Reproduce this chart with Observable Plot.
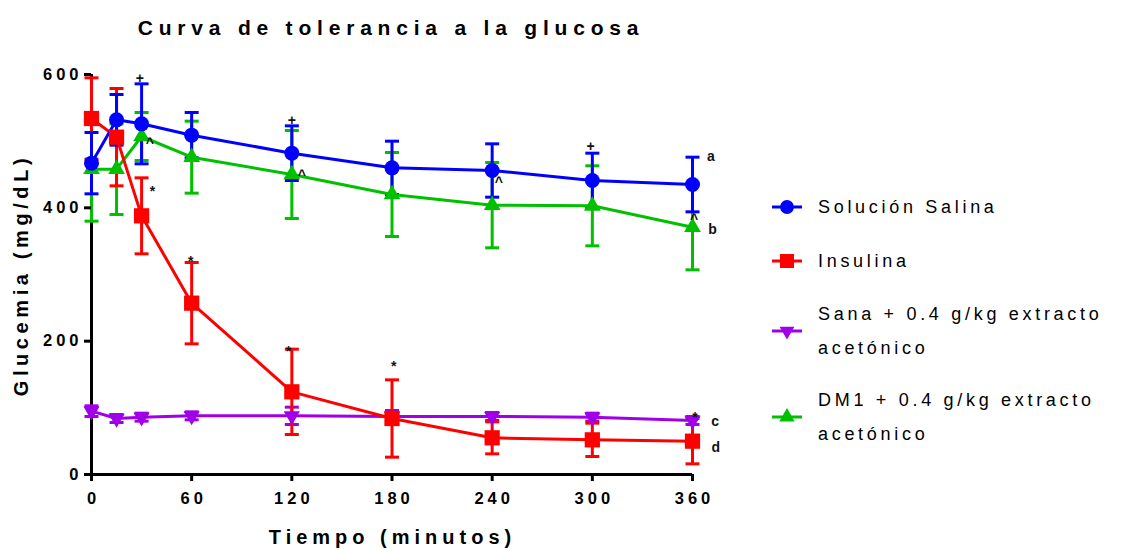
<!DOCTYPE html>
<html>
<head>
<meta charset="utf-8">
<script src="https://cdn.jsdelivr.net/npm/d3@7"></script>
<script src="https://cdn.jsdelivr.net/npm/@observablehq/plot@0.6"></script>
<style>
  body { margin: 0; background: #fff; font-family: "Liberation Sans", Arial, sans-serif; }
  #wrap { position: relative; width: 1136px; height: 550px; overflow: hidden; }
  #title { position: absolute; left: 0; width: 782px; top: 16px; text-align: center; font-weight: bold; font-size: 21px; letter-spacing: 5.8px; color: #000; }
  #xlabel { position: absolute; left: 0; width: 785px; top: 526px; text-align: center; font-weight: bold; font-size: 20px; letter-spacing: 5px; color: #000; }
  #ylabel { position: absolute; left: 21px; top: 275px; transform: translate(-50%, -50%) rotate(-90deg); white-space: nowrap; font-weight: bold; font-size: 20px; letter-spacing: 4.6px; color: #000; }
  .leg { position: absolute; left: 772px; display: flex; align-items: center; }
  .leg .txt { margin-left: 16px; font-size: 18px; letter-spacing: 3.7px; line-height: 34px; color: #000; }
  #plot svg g[aria-label$="tick label"] text { letter-spacing: 4px; font-size: 16.5px !important; font-weight: bold !important; }
</style>
</head>
<body>
<div id="wrap">
  <div id="plot"></div>
  <div id="title">Curva de tolerancia a la glucosa</div>
  <div id="xlabel">Tiempo (minutos)</div>
  <div id="ylabel">Glucemia (mg/dL)</div>
  <div id="legend"></div>
</div>
<script>
// ---- data ----
const times = [0, 15, 30, 60, 120, 180, 240, 300, 360];
const xTicks = [0, 60, 120, 180, 240, 300, 360];
const yTicks = [0, 200, 400, 600];

const seriesNames = ["Solución Salina", "Insulina", "Sana + 0.4 g/kg extracto acetónico", "DM1 + 0.4 g/kg extracto acetónico"];
const legendLines = [["Solución Salina"], ["Insulina"], ["Sana + 0.4 g/kg extracto", "acetónico"], ["DM1 + 0.4 g/kg extracto", "acetónico"]];
const seriesColors = ["#0000ff", "#ff0000", "#a000e8", "#00c000"];

const salinaMean = [467, 532, 526, 509, 482, 460, 456, 441, 435];
const salinaSD   = [46, 38, 60, 34, 41, 40, 40, 41, 41];
const insulinaMean = [534, 506, 388, 257, 124, 84, 55, 52, 50];
const insulinaSD   = [61, 73, 57, 61, 64, 58, 24, 25, 34];
const sanaMean = [95, 84, 86, 88, 88, 87, 87, 86, 81];
const sanaSD   = [8, 6, 6, 6, 13, 9, 6, 6, 6];
const dm1Mean = [458, 458, 507, 476, 450, 420, 404, 403, 371];
const dm1SD   = [78, 68, 36, 54, 66, 63, 64, 60, 64];

// significance annotations (x in minutes, y in mg/dL)
const annLabel = ["+", "+", "+", "^", "^", "^", "^", "*", "*", "*", "*", "*", "a", "b", "c", "d"];
const annX = [29, 120, 299, 35, 126, 244, 361, 36.5, 59.5, 118, 181, 361.5, 371, 372, 373.5, 374];
const annY = [594, 531, 492, 503, 455, 444, 388, 431, 326, 190, 168, 91, 477, 367, 79, 41];

// ---- build tables ----
const means = [salinaMean, insulinaMean, sanaMean, dm1Mean];
const sds = [salinaSD, insulinaSD, sanaSD, dm1SD];
const symbols = ["circle", "square", "triangle", "triangle"];
const rotations = [0, 0, 180, 0];
const radii = [7.5, 8.6, 6, 6.2];

const table = [];
seriesNames.forEach((name, i) => {
  times.forEach((t, j) => table.push({series: name, idx: i, t, v: means[i][j], sd: sds[i][j]}));
});
const ann = annLabel.map((s, i) => ({s, x: annX[i], y: annY[i]}));

const capSymbol = {
  draw(ctx, size) {
    const w = Math.sqrt(size / Math.PI);
    ctx.moveTo(-w, 0);
    ctx.lineTo(w, 0);
  }
};

// draw order: green, purple, red, blue
const order = [3, 2, 1, 0];
const marks = [];
marks.push(Plot.ruleX([0], {y1: 0, y2: 600, stroke: "#000", strokeWidth: 3}));
marks.push(Plot.ruleY([0], {x1: 0, x2: 360, stroke: "#000", strokeWidth: 3}));
for (const i of order) {
  const d = table.filter(r => r.idx === i);
  const c = seriesColors[i];
  marks.push(Plot.ruleX(d, {x: "t", y1: r => r.v - r.sd, y2: r => r.v + r.sd, stroke: c, strokeWidth: 3}));
  marks.push(Plot.dot(d, {x: "t", y: r => r.v + r.sd, symbol: capSymbol, r: 7, stroke: c, strokeWidth: 3, fill: "none"}));
  marks.push(Plot.dot(d, {x: "t", y: r => r.v - r.sd, symbol: capSymbol, r: 7, stroke: c, strokeWidth: 3, fill: "none"}));
}
for (const i of order) {
  const d = table.filter(r => r.idx === i);
  marks.push(Plot.line(d, {x: "t", y: "v", stroke: seriesColors[i], strokeWidth: 3}));
}
for (const i of order) {
  const d = table.filter(r => r.idx === i);
  marks.push(Plot.dot(d, {x: "t", y: "v", symbol: symbols[i], r: radii[i], rotate: rotations[i], fill: seriesColors[i], stroke: "none"}));
}
marks.push(Plot.text(ann, {x: "x", y: "y", text: "s", fontSize: 14, fontWeight: "bold", fill: "#111", lineAnchor: "middle"}));
marks.push(Plot.axisX({ticks: xTicks, tickSize: 7, tickPadding: 11, strokeWidth: 3, fontSize: 16.5, fontWeight: "bold", label: null, fill: "#000", stroke: "#000"}));
marks.push(Plot.axisY({ticks: yTicks, tickSize: 7, tickPadding: 2, strokeWidth: 3, fontSize: 16.5, fontWeight: "bold", label: null, fill: "#000", stroke: "#000"}));

const plot = Plot.plot({
  width: 1136,
  height: 550,
  marginLeft: 91,
  marginRight: 444,
  marginTop: 74,
  marginBottom: 76,
  style: {fontFamily: "'Liberation Sans', Arial, sans-serif", background: "transparent", overflow: "visible"},
  x: {domain: [0, 360]},
  y: {domain: [0, 600]},
  marks
});
document.getElementById("plot").appendChild(plot);

// shift "*" and "^" glyphs down so their visible centre lands on the coordinate;
// shift x tick labels right by half the letter-spacing so they stay centred
d3.select(plot).selectAll("text").filter(function() {
  const t = this.textContent; return t === "*" || t === "^";
}).attr("transform", function() { return (d3.select(this).attr("transform") || "") + " translate(0,4)"; });
d3.select(plot).selectAll('g[aria-label="x-axis tick label"] text')
  .attr("transform", function() { return (d3.select(this).attr("transform") || "") + " translate(2,0)"; });

// ---- legend ----
const legTops = [190, 244, 297, 383];
const legend = document.getElementById("legend");
legendLines.forEach((lines, i) => {
  const item = document.createElement("div");
  item.className = "leg";
  item.style.top = legTops[i] + "px";
  const svg = d3.create("svg").attr("width", 30).attr("height", 20);
  svg.append("line").attr("x1", 0).attr("x2", 30).attr("y1", 10).attr("y2", 10).attr("stroke", seriesColors[i]).attr("stroke-width", 3);
  const symType = {circle: d3.symbolCircle, square: d3.symbolSquare, triangle: d3.symbolTriangle}[symbols[i]];
  svg.append("path").attr("d", d3.symbol(symType, Math.PI * radii[i] * radii[i] * 0.85)())
    .attr("transform", `translate(15,10) rotate(${rotations[i]})`).attr("fill", seriesColors[i]);
  item.appendChild(svg.node());
  const txt = document.createElement("div");
  txt.className = "txt";
  txt.innerHTML = lines.join("<br>");
  item.appendChild(txt);
  legend.appendChild(item);
});
</script>
</body>
</html>
